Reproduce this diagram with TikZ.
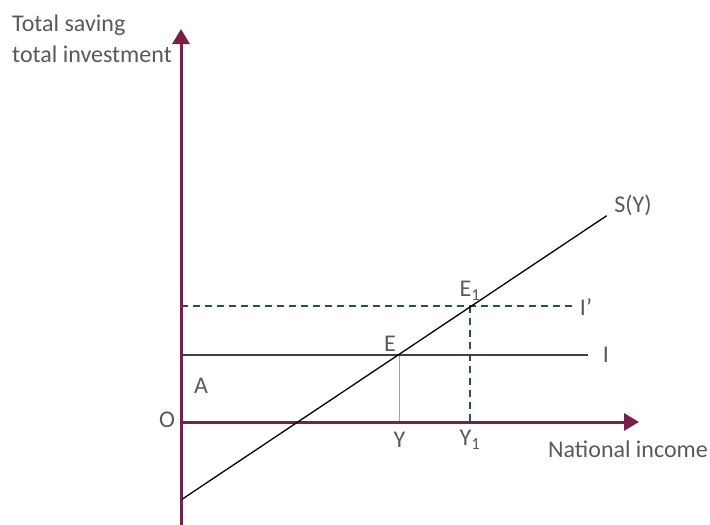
\documentclass[tikz,border=0pt]{standalone}
\usepackage{fontspec}
\setmainfont{Carlito}
\usetikzlibrary{arrows.meta}
\definecolor{axiscol}{HTML}{7A1F4A}
\definecolor{txtcol}{HTML}{595959}
\definecolor{dashcol}{HTML}{2A4D5E}
\definecolor{tealcol}{HTML}{4FC9A4}
\begin{document}
\begin{tikzpicture}[x=1pt,y=-1pt,
  lbl/.style={text=txtcol,font=\fontsize{24}{28}\selectfont,inner sep=0pt},
  axisline/.style={draw=axiscol,line width=3pt,-{Triangle[length=15pt,width=17pt]}},
  dashline/.style={draw=dashcol,line width=2pt,dash pattern=on 7pt off 5pt}]
\useasboundingbox (0,0) rectangle (710,525);
% coordinates
\coordinate (O) at (181,422);
\coordinate (ybot) at (181,525);
\coordinate (ytop) at (181,29);
\coordinate (xend) at (639,422);
\coordinate (Sstart) at (182,499.3);
\coordinate (Send) at (606.7,215.7);
\coordinate (Istart) at (181,355);
\coordinate (Iend) at (588,355);
\coordinate (Ipstart) at (181,305.7);
\coordinate (Ipend) at (576,305.7);
\coordinate (E) at (399.5,355);
\coordinate (Ybase) at (399.5,422);
\coordinate (E1) at (470,305.7);
\coordinate (Y1base) at (470,422);
% lines
\draw[dashline] (Ipstart) -- (Ipend);
\draw[dashline] (E1) -- (Y1base);
\draw[draw=tealcol,line width=1.5pt] (E) -- (Ybase);
\draw[draw=black!75,line width=1.5pt] (Istart) -- (Iend);
\draw[axisline] (ybot) -- (ytop);
\draw[axisline] (O) -- (xend);
\draw[black,line width=1.3pt] (Sstart) -- (Send);
% labels
\node[lbl,anchor=base west] (t1) at (12,31) {Total saving};
\node[lbl,anchor=base west] (t2) at (12,62) {total investment};
\node[lbl] (lSY) at (633,205) {S(Y)};
\node[lbl] (lE1) at (470,291) {E\textsubscript{1}};
\node[lbl] (lIp) at (586,307) {I’};
\node[lbl] (lE) at (390,344) {E};
\node[lbl] (lI) at (606,355) {I};
\node[lbl] (lA) at (201,386) {A};
\node[lbl] (lO) at (167,420) {O};
\node[lbl] (lY) at (399.5,440) {Y};
\node[lbl] (lY1) at (470,440) {Y\textsubscript{1}};
\node[lbl,anchor=base west] (lNI) at (548,457) {National income};
\end{tikzpicture}
\end{document}
